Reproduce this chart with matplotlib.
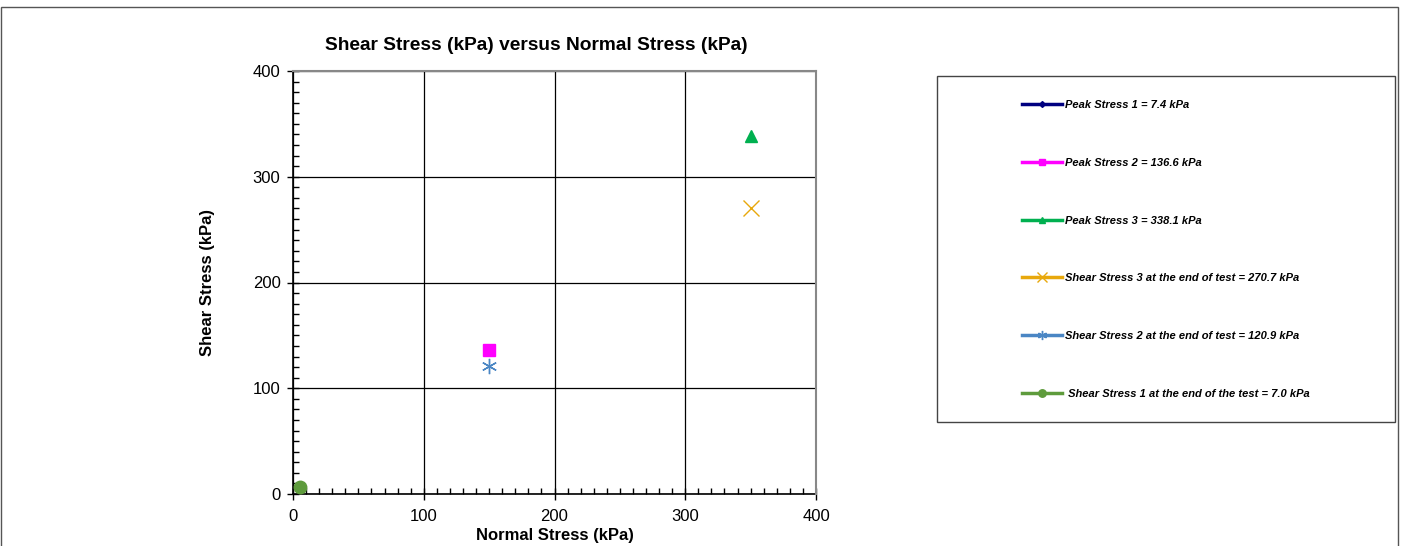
import matplotlib
matplotlib.use("Agg")
import matplotlib.pyplot as plt
from matplotlib.patches import Rectangle
from matplotlib.ticker import MultipleLocator

plt.rcParams["font.family"] = ["Liberation Sans", "DejaVu Sans"]

# --- data -------------------------------------------------------------------
labels = [
    "Peak Stress 1 = 7.4 kPa",
    "Peak Stress 2 = 136.6 kPa",
    "Peak Stress 3 = 338.1 kPa",
    "Shear Stress 3 at the end of test = 270.7 kPa",
    "Shear Stress 2 at the end of test = 120.9 kPa",
    " Shear Stress 1 at the end of the test = 7.0 kPa",
]
normal = [5, 150, 350, 350, 150, 5]
shear = [7.4, 136.6, 338.1, 270.7, 120.9, 7.0]

colors = ["#000080", "#FF00FF", "#00B050", "#E8A80C", "#4A86C4", "#5E9B3C"]
markers = ["D", "s", "^", "x", (6, 2, 0), "o"]
msizes = [5, 8, 8, 11, 11, 9]

# --- figure -----------------------------------------------------------------
W, H = 1403, 546
fig = plt.figure(figsize=(W / 100, H / 100), dpi=100)
fig.patches.append(Rectangle((1 / W, -0.01), 1397 / W, 1 - 7 / H + 0.01,
                             transform=fig.transFigure, fill=False,
                             edgecolor="#555555", lw=1.0))

ax = fig.add_axes([293 / W, 52 / H, 523 / W, 423 / H])
handles = []
for x, y, c, m, ms in zip(normal, shear, colors, markers, msizes):
    ax.plot([x], [y], linestyle="none", marker=m, color=c, markersize=ms,
            markeredgewidth=1, zorder=3)
    h, = ax.plot([], [], "-", color=c, lw=2.5, marker=m,
                 markersize=ms * 0.6, markeredgewidth=1)
    handles.append(h)

ax.set_xlim(0, 400)
ax.set_ylim(0, 400)
ax.xaxis.set_major_locator(MultipleLocator(100))
ax.yaxis.set_major_locator(MultipleLocator(100))
ax.xaxis.set_minor_locator(MultipleLocator(10))
ax.yaxis.set_minor_locator(MultipleLocator(10))
ax.grid(True, which="major", color="black", lw=0.9)
ax.tick_params(which="major", direction="inout", length=8, width=1,
               labelsize=12, color="black", pad=5)
ax.tick_params(axis="x", which="major", pad=7)
ax.tick_params(which="minor", direction="in", length=4, width=1)
for s in ["left", "bottom"]:
    ax.spines[s].set_color("black")
    ax.spines[s].set_linewidth(1.2)
for s in ["top", "right"]:
    ax.spines[s].set_color("#888888")
    ax.spines[s].set_linewidth(1.5)
    ax.spines[s].set_zorder(4)

ax.set_title("Shear Stress (kPa) versus Normal Stress (kPa)", fontsize=13.8,
             fontweight="bold", pad=15, x=0.465)
ax.set_xlabel("Normal Stress (kPa)", fontsize=12, fontweight="bold", labelpad=3)
ax.set_ylabel("Shear Stress (kPa)", fontsize=12, fontweight="bold", labelpad=27)

# legend box
fig.patches.append(Rectangle((937 / W, 1 - 422 / H), 458 / W, 346 / H,
                             transform=fig.transFigure, fill=False,
                             edgecolor="#444444", lw=1.0))
fig.legend(handles=handles, labels=labels, loc="upper left",
           bbox_to_anchor=(1022 / W, 1 - 100 / H), frameon=False,
           prop={"size": 8, "style": "italic", "weight": "bold"},
           handlelength=3.6, handletextpad=0.3, labelspacing=4.3,
           borderpad=0, borderaxespad=0)

fig.savefig("out.png", dpi=100)
